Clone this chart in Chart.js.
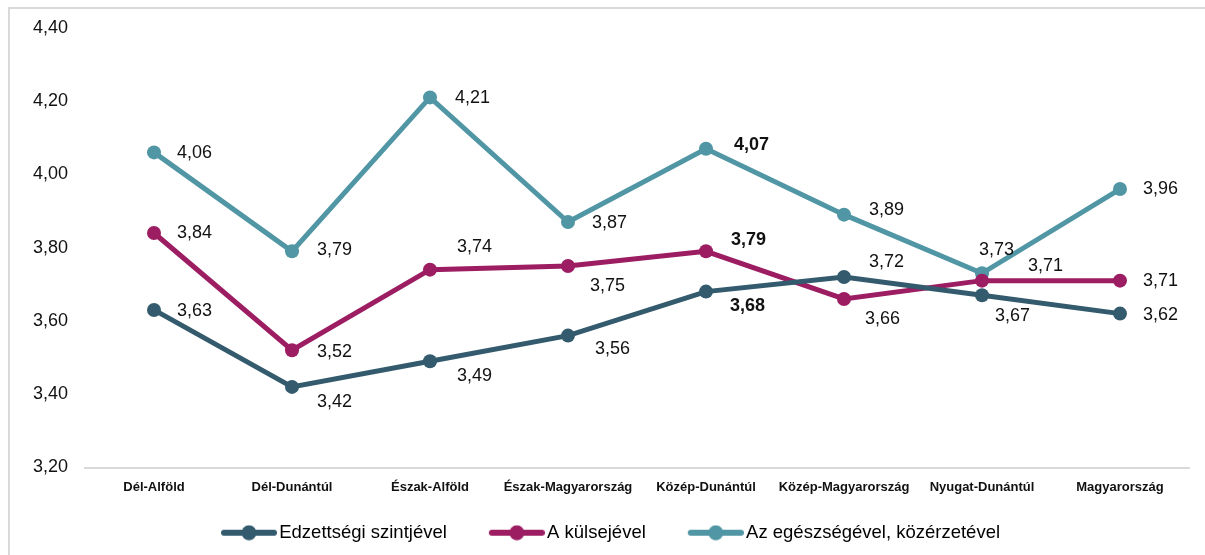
<!DOCTYPE html>
<html lang="hu">
<head>
  <meta charset="UTF-8">
  <title>Elégedettség</title>
  <style>
    html, body { margin: 0; padding: 0; background: #fff; }
    #wrap { width: 1205px; height: 555px; }
  </style>
  <script src="https://cdn.jsdelivr.net/npm/chart.js"></script>
</head>
<body>
  <div id="wrap"><canvas id="grafikon" width="1205" height="555"></canvas></div>

  <script>
    const regiok = ['Dél-Alföld', 'Dél-Dunántúl', 'Észak-Alföld', 'Észak-Magyarország',
      'Közép-Dunántúl', 'Közép-Magyarország', 'Nyugat-Dunántúl', 'Magyarország'];
    const edzettseg = [3.63, 3.42, 3.49, 3.56, 3.68, 3.72, 3.67, 3.62];
    const kulseje = [3.84, 3.52, 3.74, 3.75, 3.79, 3.66, 3.71, 3.71];
    const egeszseg = [4.06, 3.79, 4.21, 3.87, 4.07, 3.89, 3.73, 3.96];
    const sorozatNevek = ['Edzettségi szintjével', 'A külsejével', 'Az egészségével, közérzetével'];
    const yMin = 3.2, yMax = 4.4, yLepes = 0.2;

    // címkék eltolása a pont mellett [dx, dy]
    const eltolasok = [
      [[23, 1], [25, 15], [27, 15], [27, 13], [24, 14], [25, -15], [13, 21], [23, 1]],
      [[23, 0], [25, 2], [27, -23], [22, 20], [25, -11], [21, 20], [46, -15], [23, 0]],
      [[23, 1], [25, -1], [25, 1], [24, 1], [28, -4], [25, -5], [-3, -23], [23, 0]]
    ];
    const kiemelt = 4;
    const szinek = ['#335b6d', '#9c1d62', '#5096a4'];
    const betu = "'Liberation Sans', Arial, sans-serif";

    const szam = v => v.toFixed(2).replace('.', ',');

    // jelmagyarázat jele: balra üres sáv, utána vonal + kör
    function jelolo(szin) {
      const c = document.createElement('canvas');
      c.width = 95; c.height = 16;
      const g = c.getContext('2d');
      g.strokeStyle = szin;
      g.lineWidth = 6;
      g.lineCap = 'round';
      g.beginPath();
      g.moveTo(42, 8); g.lineTo(92, 8);
      g.stroke();
      g.fillStyle = szin;
      g.beginPath();
      g.arc(67, 8, 7.5, 0, Math.PI * 2);
      g.fill();
      return c;
    }

    const keret = {
      id: 'keret',
      beforeDraw(chart) {
        const ctx = chart.ctx;
        ctx.save();
        ctx.fillStyle = '#fff';
        ctx.fillRect(0, 0, chart.width, chart.height);
        ctx.strokeStyle = '#d9d9d9';
        ctx.lineWidth = 2;
        ctx.strokeRect(9, 8, chart.width + 20, chart.height + 20);
        ctx.restore();
      }
    };

    const ertekCimkek = {
      id: 'ertekCimkek',
      afterDatasetsDraw(chart) {
        const ctx = chart.ctx;
        ctx.save();
        ctx.fillStyle = '#111';
        ctx.textAlign = 'left';
        ctx.textBaseline = 'middle';
        chart.data.datasets.forEach((ds, i) => {
          chart.getDatasetMeta(i).data.forEach((pont, j) => {
            const [dx, dy] = eltolasok[i][j];
            ctx.font = (j === kiemelt ? 'bold ' : '') + '18px ' + betu;
            ctx.fillText(szam(ds.data[j]), pont.x + dx, pont.y + dy);
          });
        });
        ctx.restore();
      }
    };

    const adatsorok = [edzettseg, kulseje, egeszseg].map((adat, i) => ({
      label: sorozatNevek[i],
      data: adat,
      borderColor: szinek[i],
      backgroundColor: szinek[i],
      pointBackgroundColor: szinek[i],
      pointBorderColor: szinek[i],
      borderWidth: 5,
      pointRadius: 7,
      pointBorderWidth: 0,
      tension: 0,
      pointStyle: 'circle'
    }));

    const jelolok = szinek.map(jelolo);

    new Chart(document.getElementById('grafikon'), {
      type: 'line',
      data: { labels: regiok, datasets: adatsorok },
      options: {
        responsive: false,
        animation: false,
        layout: { padding: { top: 27, right: 16, bottom: 3, left: 0 } },
        scales: {
          x: {
            offset: true,
            grid: { display: false, drawTicks: false },
            border: { display: true, color: '#d9d9d9', width: 2 },
            ticks: {
              padding: 12,
              color: '#111',
              maxRotation: 0,
              autoSkip: false,
              font: { family: betu, size: 13, weight: 'bold' }
            },
            afterFit: s => { s.height = 46; }
          },
          y: {
            min: yMin,
            max: yMax,
            grid: { display: false, drawTicks: false },
            border: { display: false },
            ticks: {
              stepSize: yLepes,
              padding: 17,
              color: '#111',
              font: { family: betu, size: 18 },
              callback: v => szam(v)
            },
            afterFit: s => { s.width = 85; }
          }
        },
        plugins: {
          tooltip: { enabled: false },
          legend: {
            position: 'bottom',
            labels: {
              usePointStyle: true,
              pointStyleWidth: 81,
              boxHeight: 16,
              padding: 10,
              color: '#111',
              font: { family: betu, size: 18.5 },
              generateLabels: chart => chart.data.datasets.map((ds, i) => ({
                text: ds.label,
                pointStyle: jelolok[i],
                fillStyle: szinek[i],
                strokeStyle: szinek[i],
                lineWidth: 0,
                datasetIndex: i,
                hidden: false
              }))
            }
          }
        }
      },
      plugins: [keret, ertekCimkek]
    });
  </script>
</body>
</html>
